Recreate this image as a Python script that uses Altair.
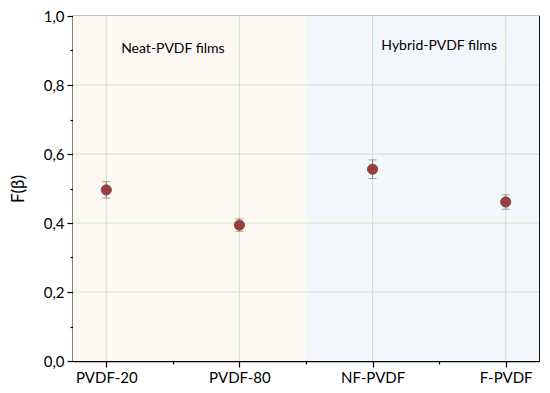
import altair as alt
import pandas as pd

# ---- data ----
categories = ["PVDF-20", "PVDF-80", "NF-PVDF", "F-PVDF"]
positions = [1, 2, 3, 4]
f_beta = [0.496, 0.394, 0.556, 0.461]
f_err = [0.024, 0.018, 0.027, 0.021]

region_names = ["Neat-PVDF films", "Hybrid-PVDF films"]
region_start = [0.75, 2.5]
region_end = [2.5, 4.25]
region_colors = ["#FDF8F1", "#F3F6FB"]
region_label_x = [1.5, 3.5]
region_label_y = [0.905, 0.912]

x_ticks = [1, 1.5, 2, 2.5, 3, 3.5, 4]
y_ticks = [round(i * 0.1, 1) for i in range(11)]
y_grid = [0.2, 0.4, 0.6, 0.8]

pts = pd.DataFrame({
    "pos": positions,
    "cat": categories,
    "f": f_beta,
    "lo": [v - e for v, e in zip(f_beta, f_err)],
    "hi": [v + e for v, e in zip(f_beta, f_err)],
})
regions = pd.DataFrame({
    "name": region_names, "start": region_start, "end": region_end,
    "color": region_colors, "lx": region_label_x, "ly": region_label_y,
})
gx = pd.DataFrame({"pos": positions})
gy = pd.DataFrame({"v": y_grid})

FONT = "Lato"
xscale = alt.Scale(domain=[0.75, 4.25], nice=False, zero=False)
yscale = alt.Scale(domain=[0, 1], nice=False)

names_js = "[" + ",".join("'" + c + "'" for c in categories) + "]"
xaxis = alt.Axis(
    values=x_ticks, grid=False,
    labelExpr=f"datum.value % 1 == 0 ? {names_js}[datum.value - 1] : ''",
    tickSize={"condition": {"test": "datum.value % 1 == 0", "value": 6}, "value": 3},
    tickColor="black", domainColor="black", domainWidth=1.5, tickWidth=1.2,
    labelFont=FONT, labelFontSize=15, labelColor="black", labelPadding=3,
    labelFlush=False, labelOverlap=False,
)
yaxis = alt.Axis(
    values=y_ticks, grid=False,
    labelExpr="round(datum.value * 10) % 2 == 0 ? replace(format(datum.value, '.1f'), '.', ',') : ''",
    tickSize={"condition": {"test": "round(datum.value * 10) % 2 == 0", "value": 6}, "value": 3},
    tickColor="black", domainColor="black", domainWidth=1.5, tickWidth=1.2,
    labelFont=FONT, labelFontSize=15, labelColor="black", labelPadding=3,
    titleFont=FONT, titleFontSize=17, titleFontWeight="normal", titleColor="black",
    titlePadding=16, labelFlush=False, labelOverlap=False,
)

bg = alt.Chart(regions).mark_rect().encode(
    x=alt.X("start:Q", scale=xscale, axis=xaxis, title=None),
    x2="end:Q",
    y=alt.datum(0, scale=yscale, axis=yaxis, title="F(β)"),
    y2=alt.datum(1),
    color=alt.Color("color:N", scale=None),
)

grid_x = alt.Chart(gx).mark_rule(color="#C9E6C3", strokeWidth=1).encode(
    x=alt.X("pos:Q", scale=xscale, axis=xaxis, title=None),
)
grid_y = alt.Chart(gy).mark_rule(color="#C9E6C3", strokeWidth=1).encode(
    y=alt.Y("v:Q", scale=yscale, axis=yaxis, title="F(β)"),
)

labels = alt.Chart(regions).mark_text(font=FONT, fontSize=14, color="black").encode(
    x=alt.X("lx:Q", scale=xscale, axis=xaxis, title=None),
    y=alt.Y("ly:Q", scale=yscale, axis=yaxis, title="F(β)"),
    text="name:N",
)

ebar = alt.Chart(pts).mark_rule(color="#808080", strokeWidth=1).encode(
    x=alt.X("pos:Q", scale=xscale, axis=xaxis, title=None),
    y=alt.Y("lo:Q", scale=yscale, axis=yaxis, title="F(β)"),
    y2="hi:Q",
)
cap_lo = alt.Chart(pts).mark_tick(color="#808080", orient="horizontal", size=8, thickness=1).encode(
    x=alt.X("pos:Q", scale=xscale, axis=xaxis, title=None),
    y=alt.Y("lo:Q", scale=yscale, axis=yaxis, title="F(β)"),
)
cap_hi = alt.Chart(pts).mark_tick(color="#808080", orient="horizontal", size=8, thickness=1).encode(
    x=alt.X("pos:Q", scale=xscale, axis=xaxis, title=None),
    y=alt.Y("hi:Q", scale=yscale, axis=yaxis, title="F(β)"),
)
points = alt.Chart(pts).mark_point(
    filled=True, shape="circle", size=105, fill="#A33A3A", stroke="#5A4A4A",
    strokeWidth=0.8, opacity=1,
).encode(
    x=alt.X("pos:Q", scale=xscale, axis=xaxis, title=None),
    y=alt.Y("f:Q", scale=yscale, axis=yaxis, title="F(β)"),
)

chart = alt.layer(bg, grid_x, grid_y, labels, ebar, cap_lo, cap_hi, points).properties(
    width=466, height=345,
    autosize=alt.AutoSizeParams(type="none"),
    padding={"left": 65, "top": 8, "right": 3, "bottom": 24},
    background="white",
).configure_view(stroke="black", strokeWidth=1.2)

chart.save("out.html", embed_options={"renderer": "svg", "actions": False})
